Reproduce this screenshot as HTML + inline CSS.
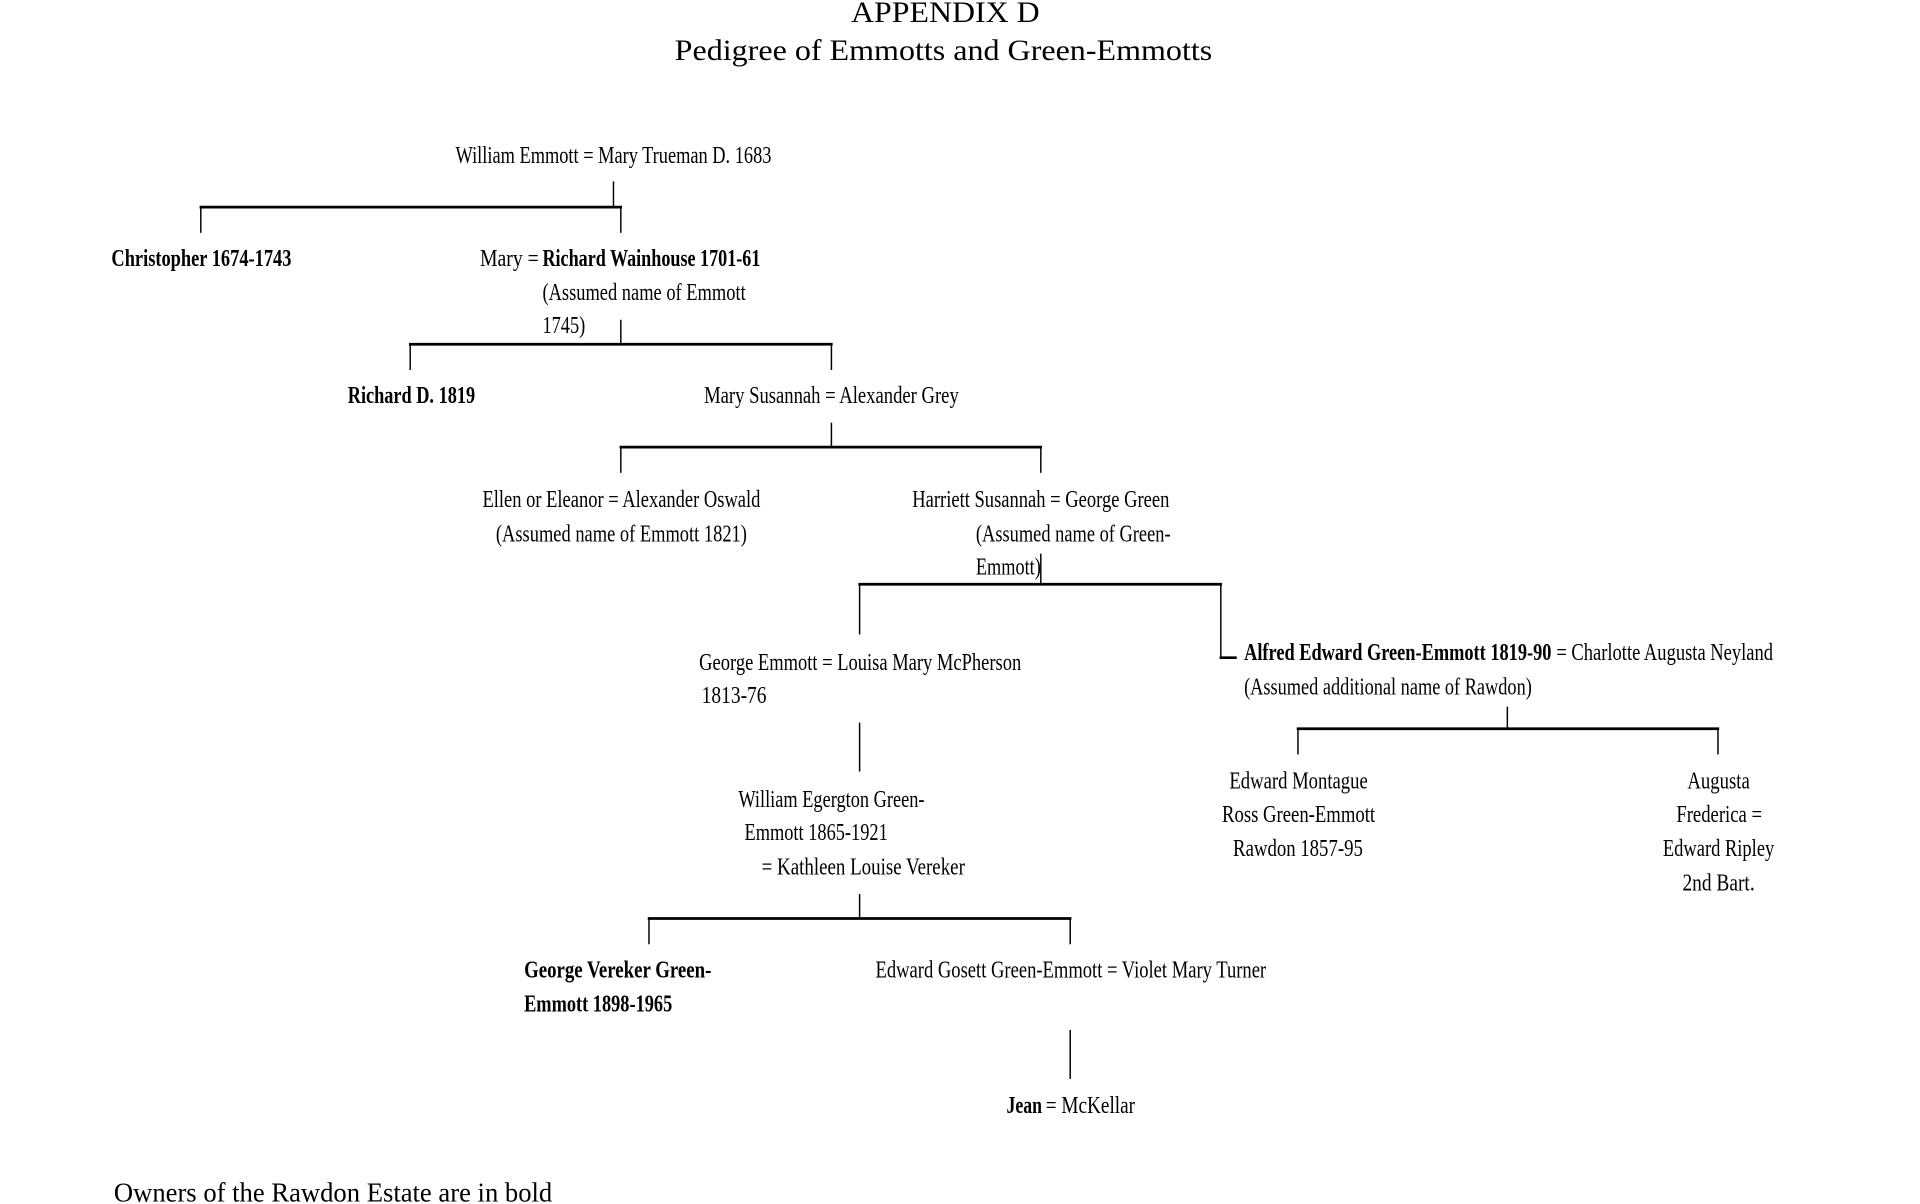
<!DOCTYPE html>
<html><head><meta charset="utf-8"><style>
html,body{margin:0;padding:0;background:#fff;}
svg{display:block;}
text{font-family:"Liberation Serif",serif;font-size:20px;fill:#000;}
.b{font-weight:bold;}
</style></head><body>
<svg width="1920" height="1204" viewBox="0 0 1568 983" xmlns="http://www.w3.org/2000/svg">
<g stroke="#000" fill="none">
<g stroke-width="1.2">
<line x1="501" y1="148" x2="501" y2="169"/>
<line x1="164" y1="169" x2="164" y2="190"/><line x1="507" y1="169" x2="507" y2="190"/>
<line x1="507" y1="261" x2="507" y2="281"/>
<line x1="335" y1="281" x2="335" y2="302"/><line x1="679" y1="281" x2="679" y2="302"/>
<line x1="679" y1="345" x2="679" y2="365"/>
<line x1="507" y1="365" x2="507" y2="386"/><line x1="850" y1="365" x2="850" y2="386"/>
<line x1="850" y1="452" x2="850" y2="477"/>
<line x1="702" y1="477" x2="702" y2="518"/><line x1="997" y1="477" x2="997" y2="537"/>
<line x1="1231" y1="577" x2="1231" y2="595"/>
<line x1="1060" y1="595" x2="1060" y2="616"/><line x1="1403" y1="595" x2="1403" y2="616"/>
<line x1="702" y1="590" x2="702" y2="630"/>
<line x1="702" y1="730" x2="702" y2="750"/>
<line x1="530" y1="750" x2="530" y2="771"/><line x1="874" y1="750" x2="874" y2="771"/>
<line x1="874" y1="841" x2="874" y2="881"/>
</g>
<g stroke-width="2.2">
<line x1="163" y1="169" x2="508" y2="169"/>
<line x1="334" y1="281" x2="680" y2="281"/>
<line x1="506" y1="365" x2="851" y2="365"/>
<line x1="701" y1="477" x2="998" y2="477"/>
<line x1="996" y1="537" x2="1010" y2="537"/>
<line x1="1059" y1="595" x2="1404" y2="595"/>
<line x1="529" y1="750" x2="875" y2="750"/>
</g>
</g>
<text x="695" y="18" style="font-size:24px" textLength="154" lengthAdjust="spacingAndGlyphs">APPENDIX D</text>
<text x="551" y="49" style="font-size:24px" textLength="439" lengthAdjust="spacingAndGlyphs">Pedigree of Emmotts and Green-Emmotts</text>
<text x="372" y="133" textLength="258" lengthAdjust="spacingAndGlyphs">William Emmott = Mary Trueman D. 1683</text>
<text class="b" x="91" y="217" textLength="147" lengthAdjust="spacingAndGlyphs">Christopher 1674-1743</text>
<text x="392" y="217" textLength="48" lengthAdjust="spacingAndGlyphs">Mary =</text>
<text class="b" x="443" y="217" textLength="178" lengthAdjust="spacingAndGlyphs">Richard Wainhouse 1701-61</text>
<text x="443" y="245" textLength="166" lengthAdjust="spacingAndGlyphs">(Assumed name of Emmott</text>
<text x="443" y="272" textLength="35" lengthAdjust="spacingAndGlyphs">1745)</text>
<text class="b" x="284" y="329" textLength="104" lengthAdjust="spacingAndGlyphs">Richard D. 1819</text>
<text x="575" y="329" textLength="208" lengthAdjust="spacingAndGlyphs">Mary Susannah = Alexander Grey</text>
<text x="394" y="414" textLength="227" lengthAdjust="spacingAndGlyphs">Ellen or Eleanor = Alexander Oswald</text>
<text x="405" y="442" textLength="205" lengthAdjust="spacingAndGlyphs">(Assumed name of Emmott 1821)</text>
<text x="745" y="414" textLength="210" lengthAdjust="spacingAndGlyphs">Harriett Susannah = George Green</text>
<text x="797" y="442" textLength="159" lengthAdjust="spacingAndGlyphs">(Assumed name of Green-</text>
<text x="797" y="469" textLength="53" lengthAdjust="spacingAndGlyphs">Emmott)</text>
<text x="571" y="547" textLength="263" lengthAdjust="spacingAndGlyphs">George Emmott = Louisa Mary McPherson</text>
<text x="573" y="574" textLength="53" lengthAdjust="spacingAndGlyphs">1813-76</text>
<text class="b" x="1016" y="539" textLength="251" lengthAdjust="spacingAndGlyphs">Alfred Edward Green-Emmott 1819-90</text>
<text x="1271" y="539" textLength="177" lengthAdjust="spacingAndGlyphs">= Charlotte Augusta Neyland</text>
<text x="1016" y="567" textLength="235" lengthAdjust="spacingAndGlyphs">(Assumed additional name of Rawdon)</text>
<text x="603" y="659" textLength="152" lengthAdjust="spacingAndGlyphs">William Egergton Green-</text>
<text x="608" y="686" textLength="117" lengthAdjust="spacingAndGlyphs">Emmott 1865-1921</text>
<text x="622" y="714" textLength="166" lengthAdjust="spacingAndGlyphs">= Kathleen Louise Vereker</text>
<text x="1004" y="644" textLength="113" lengthAdjust="spacingAndGlyphs">Edward Montague</text>
<text x="998" y="671" textLength="125" lengthAdjust="spacingAndGlyphs">Ross Green-Emmott</text>
<text x="1007" y="699" textLength="106" lengthAdjust="spacingAndGlyphs">Rawdon 1857-95</text>
<text x="1378" y="644" textLength="51" lengthAdjust="spacingAndGlyphs">Augusta</text>
<text x="1369" y="671" textLength="70" lengthAdjust="spacingAndGlyphs">Frederica =</text>
<text x="1358" y="699" textLength="91" lengthAdjust="spacingAndGlyphs">Edward Ripley</text>
<text x="1374" y="727" textLength="59" lengthAdjust="spacingAndGlyphs">2nd Bart.</text>
<text class="b" x="428" y="798" textLength="153" lengthAdjust="spacingAndGlyphs">George Vereker Green-</text>
<text class="b" x="428" y="826" textLength="121" lengthAdjust="spacingAndGlyphs">Emmott 1898-1965</text>
<text x="715" y="798" textLength="319" lengthAdjust="spacingAndGlyphs">Edward Gosett Green-Emmott = Violet Mary Turner</text>
<text class="b" x="822" y="909" textLength="29" lengthAdjust="spacingAndGlyphs">Jean</text>
<text x="854" y="909" textLength="73" lengthAdjust="spacingAndGlyphs">= McKellar</text>
<text x="93" y="981" style="font-size:22px" textLength="358" lengthAdjust="spacingAndGlyphs">Owners of the Rawdon Estate are in bold</text>
</svg>
</body></html>
